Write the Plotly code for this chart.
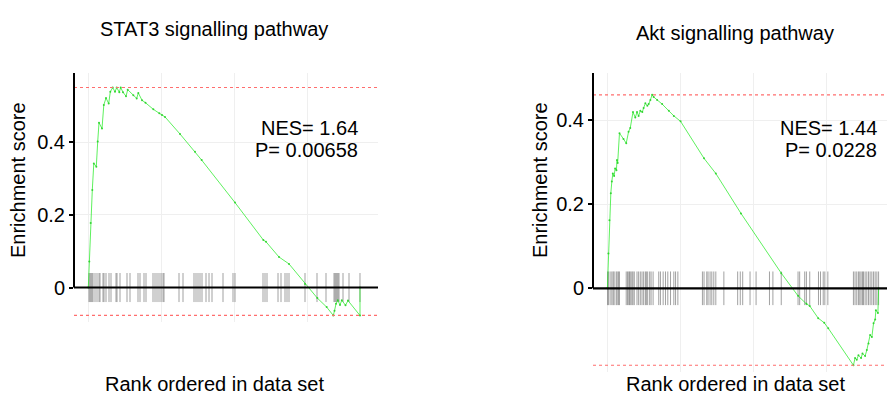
import plotly.graph_objects as go

# ---------------- data ----------------
panel_titles = ["STAT3 signalling pathway", "Akt signalling pathway"]
nes_values = ["1.64", "1.44"]
p_values = ["0.00658", "0.0228"]
y_tick_vals = [0, 0.2, 0.4]
y_tick_text = ["0", "0.2", "0.4"]
x_grid_vals = [0, 5000, 10000, 15000]

stat3_rank = [0, 68, 164, 274, 377, 548, 644, 733, 938, 1062, 1212, 1397, 1507, 1671,
              1829, 1945, 2124, 2219, 2377, 2582, 2699, 3083, 3315, 3425, 3678, 3918,
              4453, 4864, 5048, 5254, 6281, 7309, 7768, 10049, 11988, 12172, 13063,
              13748, 14844, 15686, 16330, 16783, 16865, 16967, 17091, 17241, 17365,
              17618, 17789, 18611, 18611]
stat3_es = [0, 0.072, 0.178, 0.269, 0.342, 0.333, 0.402, 0.454, 0.438, 0.503, 0.522,
            0.507, 0.539, 0.551, 0.539, 0.551, 0.538, 0.551, 0.538, 0.527, 0.545, 0.530,
            0.521, 0.536, 0.516, 0.509, 0.491, 0.480, 0.475, 0.470, 0.423, 0.374, 0.351,
            0.234, 0.131, 0.126, 0.084, 0.065, 0.010, -0.029, -0.054, -0.077, -0.064,
            -0.045, -0.035, -0.048, -0.035, -0.049, -0.036, -0.077, 0]
stat3_hits = [48, 116, 185, 253, 322, 459, 596, 733, 801, 1007, 1075, 1212, 1418, 1555,
              1897, 1966, 2171, 2651, 2857, 3405, 3542, 3816, 3953, 4432, 4569, 4706,
              4843, 4980, 5117, 5186, 6213, 6487, 7241, 7378, 7515, 7652, 7789, 8063,
              8269, 8474, 9228, 9913, 10050, 11968, 12105, 12242, 12996, 13201, 13475,
              13612, 13749, 14845, 15667, 16283, 16831, 16900, 16968, 17037, 17105,
              17174, 17448, 17859, 18611]

akt_rank = [0, 69, 138, 234, 303, 372, 461, 530, 619, 654, 702, 826, 1101, 1287, 1445,
            1562, 1748, 1906, 2023, 2133, 2250, 2387, 2477, 2594, 2731, 2821, 2938, 3055,
            3165, 3399, 3743, 4197, 4541, 5002, 6605, 7410, 9130, 11882, 13031, 13602,
            13829, 14407, 14820, 15095, 16815, 16925, 17042, 17158, 17337, 17434, 17613,
            17730, 17847, 17957, 18074, 18191, 18301, 18350, 18488, 18536]
akt_es = [0, 0.083, 0.162, 0.226, 0.254, 0.273, 0.267, 0.285, 0.281, 0.305, 0.298,
          0.369, 0.355, 0.345, 0.372, 0.381, 0.419, 0.406, 0.419, 0.410, 0.422, 0.419,
          0.429, 0.440, 0.434, 0.438, 0.448, 0.460, 0.455, 0.448, 0.438, 0.422, 0.410,
          0.397, 0.309, 0.273, 0.178, 0.036, -0.018, -0.037, -0.042, -0.071, -0.082,
          -0.095, -0.183, -0.166, -0.170, -0.159, -0.166, -0.155, -0.161, -0.147,
          -0.131, -0.111, -0.116, -0.083, -0.074, -0.052, -0.059, 0]
akt_hits = [14, 69, 186, 303, 392, 461, 599, 667, 757, 826, 1287, 1376, 1459, 1514,
            1596, 1679, 1748, 1837, 2023, 2133, 2250, 2367, 2477, 2594, 2663, 2752,
            2890, 2986, 3124, 3509, 3626, 3812, 3970, 4128, 4314, 4541, 4658, 4816,
            6495, 6605, 6791, 6880, 7018, 7135, 7273, 7410, 7960, 8903, 9082, 9247,
            9749, 10162, 11077, 11311, 11882, 13031, 13141, 13485, 13602, 13829, 14427,
            14565, 14751, 14861, 15067, 16815, 16925, 17042, 17158, 17248, 17338, 17434,
            17503, 17613, 17730, 17847, 17957, 18074, 18191, 18301, 18418, 18534]

rug_half_height = 0.04

# ---------------- layout helpers ----------------
# the page body has an 8 px margin, so the figure is drawn from (8, 8)
OFF = 8
W, H = 895 - OFF, 397 - OFF
FONT = "Liberation Sans, Arial, sans-serif"


def px_x(p):
    return (p - OFF) / W


def px_y(p):
    return 1 - (p - OFF) / H


panels = [
    dict(rank=stat3_rank, es=stat3_es, hits=stat3_hits, xr=[-980, 19845], yr=[-0.095, 0.591],
         xd=[px_x(74), px_x(378)], yd=[px_y(322), px_y(73)], title_x=214, title_y=29, ytitle_x=18),
    dict(rank=akt_rank, es=akt_es, hits=akt_hits, xr=[-984, 19656], yr=[-0.2, 0.512],
         xd=[px_x(593), px_x(895)], yd=[px_y(372.4), px_y(73)], title_x=735, title_y=33, ytitle_x=540),
]

fig = go.Figure()
shapes = []
annotations = []

for i, p in enumerate(panels):
    sfx = "" if i == 0 else str(i + 1)
    xa, ya = "x" + sfx, "y" + sfx

    # rug of hits
    rx, ry = [], []
    for h in p["hits"]:
        rx += [h, h, None]
        ry += [-rug_half_height, rug_half_height, None]
    fig.add_trace(go.Scatter(x=rx, y=ry, mode="lines", xaxis=xa, yaxis=ya,
                             line=dict(color="rgba(70,70,70,0.5)", width=1),
                             hoverinfo="skip", showlegend=False))

    # running enrichment score
    fig.add_trace(go.Scatter(x=p["rank"], y=p["es"], mode="lines+markers", xaxis=xa, yaxis=ya,
                             line=dict(color="rgba(40,235,40,0.75)", width=1),
                             marker=dict(size=2, color="rgba(40,210,40,0.9)"),
                             showlegend=False))

    es_max, es_min = max(p["es"]), min(p["es"])
    # dotted max / min lines
    for v in (es_max, es_min):
        shapes.append(dict(type="line", xref=xa + " domain", yref=ya, x0=0, x1=1, y0=v, y1=v,
                           line=dict(color="rgb(255,110,110)", width=1.2, dash="dot"), layer="above"))
    # zero line
    shapes.append(dict(type="line", xref=xa + " domain", yref=ya, x0=0, x1=1, y0=0, y1=0,
                       line=dict(color="black", width=2.2), layer="above"))
    # y axis line from 0 to top
    shapes.append(dict(type="line", xref=xa + " domain", yref=ya, x0=0, x1=0, y0=0, y1=p["yr"][1],
                       line=dict(color="black", width=2), layer="above"))

    axis_common = dict(showline=False, zeroline=False, gridcolor="#efefef", gridwidth=1)
    fig.layout["xaxis" + sfx] = dict(domain=p["xd"], range=p["xr"], tickvals=x_grid_vals,
                                     showticklabels=False, ticks="", anchor=ya, **axis_common)
    fig.layout["yaxis" + sfx] = dict(domain=p["yd"], range=p["yr"], tickvals=y_tick_vals,
                                     ticktext=y_tick_text, ticks="outside", ticklen=4, tickwidth=1.5,
                                     tickcolor="black", anchor=xa,
                                     tickfont=dict(size=20, color="black", family=FONT), **axis_common)

    last_rank = p["rank"][-1]
    annotations.append(dict(x=last_rank, xref=xa, y=px_y(128), yref="paper", text="NES= " + nes_values[i],
                            showarrow=False, xanchor="right", yanchor="middle",
                            font=dict(size=20, color="black", family=FONT)))
    annotations.append(dict(x=last_rank, xref=xa, y=px_y(150), yref="paper", text="P= " + p_values[i],
                            showarrow=False, xanchor="right", yanchor="middle",
                            font=dict(size=20, color="black", family=FONT)))
    # titles
    annotations.append(dict(x=px_x(p["title_x"]), y=px_y(p["title_y"]), xref="paper", yref="paper",
                            text=panel_titles[i], showarrow=False, xanchor="center", yanchor="middle",
                            font=dict(size=20, color="black", family=FONT)))
    annotations.append(dict(x=px_x(p["title_x"]), y=px_y(384), xref="paper", yref="paper",
                            text="Rank ordered in data set", showarrow=False, xanchor="center",
                            yanchor="middle", font=dict(size=20, color="black", family=FONT)))
    annotations.append(dict(x=px_x(p["ytitle_x"]), y=px_y(180), xref="paper", yref="paper",
                            text="Enrichment score", textangle=-90, showarrow=False,
                            xanchor="center", yanchor="middle",
                            font=dict(size=20, color="black", family=FONT)))

fig.update_layout(width=W, height=H, margin=dict(l=0, r=0, t=0, b=0),
                  paper_bgcolor="white", plot_bgcolor="white",
                  shapes=shapes, annotations=annotations)

fig.write_html("out.html")
